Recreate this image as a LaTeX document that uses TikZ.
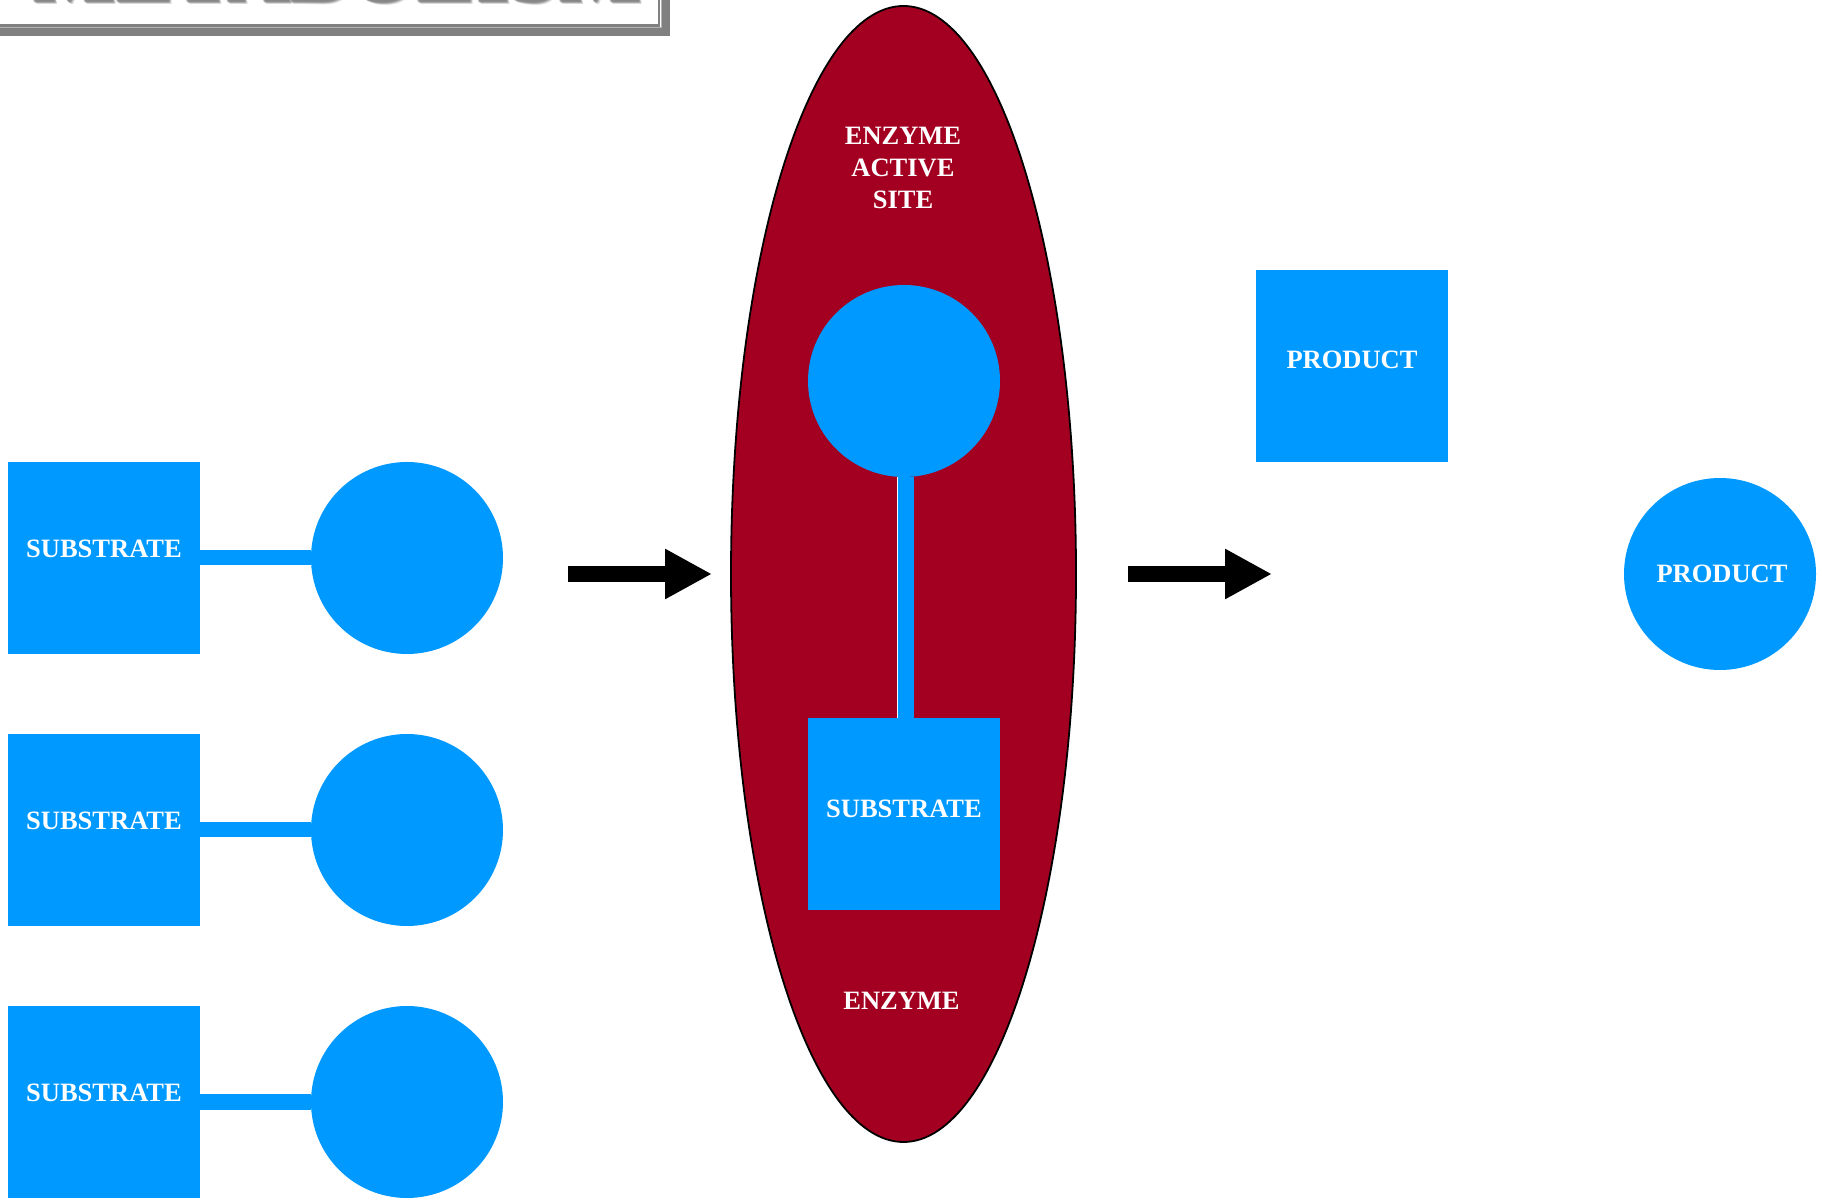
\documentclass[tikz,border=0pt]{standalone}
\usepackage{fontspec}
\setmainfont{Liberation Serif}
\usetikzlibrary{arrows.meta, shapes.geometric}
\definecolor{molblue}{RGB}{0,153,255}
\definecolor{enzred}{RGB}{163,0,33}
\definecolor{framegray}{RGB}{128,128,128}
\tikzset{
  sqbox/.style={rectangle, fill=molblue, draw=none, minimum size=192pt, inner sep=0pt},
  ballnode/.style={circle, fill=molblue, draw=none, minimum size=192pt, inner sep=0pt},
  lbl/.style={text=white, inner sep=0pt, font=\bfseries\fontsize{26.5}{32}\selectfont},
  bond/.style={draw=molblue, line width=15pt, line cap=butt},
  bigarrow/.style={line width=16pt, line cap=butt, -{Triangle[length=47pt, width=47pt]}},
}
\begin{document}
\begin{tikzpicture}[x=1pt, y=1pt]
\useasboundingbox (0,0) rectangle (1822,1199);
\clip (0,0) rectangle (1822,1199);

% title panel with drop shadow
\fill[framegray] (-20,1162.5) rectangle (670,1260);
\fill[white] (-20,1170.5) rectangle (662,1260);
\draw[framegray, line width=2.4pt] (-20,1173.5) rectangle (659,1270);
\draw[framegray!60, line width=0.8pt] (-20,1171.2) -- (661,1171.2) -- (661,1270);
\foreach \dx/\dy in {2/-2,3/-3,4/-4,3/-2,2/-3,4/-3,3/-4,5/-5}
  \node[anchor=base, inner sep=0pt, text=framegray, opacity=0.3,
        font=\bfseries\fontsize{88}{92}\selectfont] at (335+\dx,1199.5+\dy) {METABOLISM};
\node (title) [anchor=base, inner sep=0pt, text=white,
      font=\bfseries\fontsize{88}{92}\selectfont] at (335,1199.5) {METABOLISM};

% free substrates
\foreach \i/\y in {1/641, 2/369, 3/97} {
  \node (s\i) [sqbox, label={[lbl, yshift=9pt]center:SUBSTRATE}] at (104,\y) {};
  \node (c\i) [ballnode] at (407,\y) {};
  \draw[bond] (s\i.east) -- (c\i.west);
}

% reaction arrows
\coordinate (a1s) at (568,625);
\coordinate (a1e) at (712,625);
\draw[bigarrow] (a1s) -- (a1e);
\coordinate (a2s) at (1128,625);
\coordinate (a2e) at (1272,625);
\draw[bigarrow] (a2s) -- (a2e);

% enzyme with bound substrate
\node (enz) [ellipse, fill=enzred, draw=black, line width=1.8pt,
      minimum width=345pt, minimum height=1136pt, inner sep=0pt] at (903.5,625) {};
\node (site) [lbl, align=center] at (903,1031) {ENZYME\\ACTIVE\\SITE};
\node (enzlbl) [lbl] at (901.5,198) {ENZYME};
\node (ic) [ballnode] at (904,818) {};
\node (is) [sqbox, label={[lbl, yshift=5pt]center:SUBSTRATE}] at (904,385) {};
\draw[molblue, line width=16pt] ([xshift=2pt]ic.south) -- ([xshift=2pt]is.north);
\draw[white, line width=1pt] ([xshift=-6.5pt]ic.south) -- ([xshift=-6.5pt]is.north);

% products
\node (p1) [sqbox, label={[lbl, yshift=6pt]center:PRODUCT}] at (1352,833) {};
\node (p2) [ballnode, label={[lbl, xshift=2pt]center:PRODUCT}] at (1720,625) {};
\end{tikzpicture}
\end{document}
